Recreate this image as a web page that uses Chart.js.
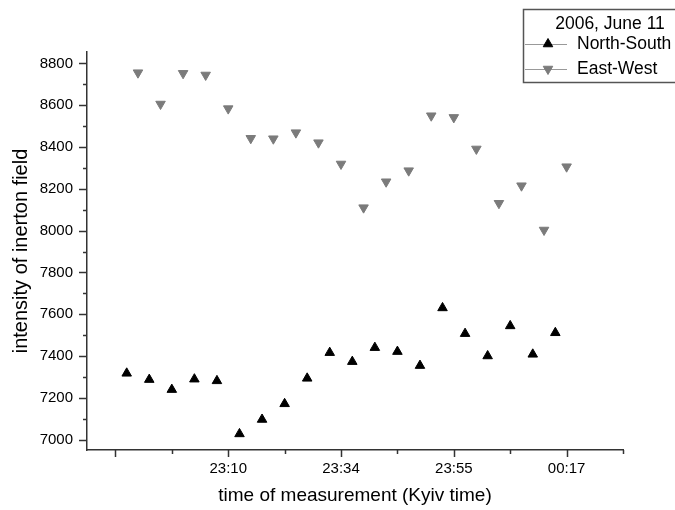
<!DOCTYPE html>
<html lang="en">
<head>
<meta charset="UTF-8">
<title>Intensity of inerton field</title>
<style>
    html, body {
        margin: 0;
        padding: 0;
        background: #fff;
    }
    #wrap {
        width: 675px;
        height: 510px;
    }
</style>
<script src="https://cdn.jsdelivr.net/npm/chart.js"></script>
</head>
<body>
<div id="wrap"><canvas id="myChart" width="675" height="510"></canvas></div>
<script>
    // data
    const legendTitle = '2006, June 11';
    const seriesNames = ['North-South', 'East-West'];

    // measurement number: N-S reading, then the E-W reading half a step later
    const nsX = [1, 2, 3, 4, 5, 6, 7, 8, 9, 10, 11, 12, 13, 14, 15, 16, 17, 18, 19, 20];
    const nsY = [7317, 7287, 7239, 7289, 7281, 7027, 7096, 7171, 7293, 7416,
                 7373, 7440, 7421, 7354, 7630, 7507, 7400, 7544, 7408, 7511];
    const ewX = [1.5, 2.5, 3.5, 4.5, 5.5, 6.5, 7.5, 8.5, 9.5, 10.5,
                 11.5, 12.5, 13.5, 14.5, 15.5, 16.5, 17.5, 18.5, 19.5, 20.5];
    const ewY = [8756, 8606, 8753, 8745, 8584, 8442, 8440, 8469, 8421, 8319,
                 8110, 8234, 8287, 8550, 8542, 8391, 8131, 8215, 8003, 8306];

    // axis ticks (every 2.5 measurements, labelled every 5)
    const xTickValues = [0.5, 3, 5.5, 8, 10.5, 13, 15.5, 18, 20.5, 23];
    const xTickLabels = ['', '', '23:10', '', '23:34', '', '23:55', '', '00:17', ''];
    const yTickValues = [7000, 7100, 7200, 7300, 7400, 7500, 7600, 7700, 7800, 7900,
                         8000, 8100, 8200, 8300, 8400, 8500, 8600, 8700, 8800];

    const FONT = '"Liberation Sans", Arial, sans-serif';
    const axisColor = '#333';
    const nsColor = '#000';
    const ewColor = '#7b7b7b';

    // small outward tick marks, long for labelled values
    const tickMarks = {
        id: 'tickMarks',
        afterDraw(chart) {
            const {ctx, chartArea: a, scales: {x, y}} = chart;
            ctx.save();
            ctx.strokeStyle = axisColor;
            ctx.lineWidth = 1.5;
            yTickValues.forEach(v => {
                const py = Math.round(y.getPixelForValue(v)) + 0.5;
                const len = v % 200 === 0 ? 8 : 4;
                ctx.beginPath();
                ctx.moveTo(a.left - len, py);
                ctx.lineTo(a.left, py);
                ctx.stroke();
            });
            xTickValues.forEach((v, i) => {
                const px = Math.round(x.getPixelForValue(v)) + 0.5;
                const len = i % 2 === 0 ? 7 : 4;
                ctx.beginPath();
                ctx.moveTo(px, a.bottom);
                ctx.lineTo(px, a.bottom + len);
                ctx.stroke();
            });
            ctx.restore();
        }
    };

    // boxed legend in the upper right corner
    const boxLegend = {
        id: 'boxLegend',
        afterDraw(chart) {
            const ctx = chart.ctx;
            ctx.save();
            ctx.strokeStyle = '#555';
            ctx.lineWidth = 1.5;
            ctx.strokeRect(523.5, 9.5, 200, 73);

            ctx.fillStyle = '#000';
            ctx.font = '17.5px ' + FONT;
            ctx.textBaseline = 'middle';
            ctx.textAlign = 'center';
            ctx.fillText(legendTitle, 610, 24);

            ctx.textAlign = 'left';
            chart.data.datasets.forEach((ds, i) => {
                const ry = 44 + i * 25;
                ctx.strokeStyle = '#999';
                ctx.lineWidth = 1;
                ctx.beginPath();
                ctx.moveTo(525, ry + 0.5);
                ctx.lineTo(567, ry + 0.5);
                ctx.stroke();
                ctx.fillStyle = ds.pointBackgroundColor;
                ctx.strokeStyle = ds.pointBorderColor;
                Chart.helpers.drawPoint(ctx, {
                    pointStyle: 'triangle',
                    radius: ds.pointRadius,
                    rotation: ds.pointRotation,
                    borderWidth: 1
                }, 548, ry);
                ctx.fillStyle = '#000';
                ctx.fillText(ds.label, 577, ry);
            });
            ctx.restore();
        }
    };

    const ctx = document.getElementById('myChart').getContext('2d');
    const myChart = new Chart(ctx, {
        type: 'scatter',
        data: {
            datasets: [{
                label: seriesNames[0],
                data: nsX.map((v, i) => ({x: v, y: nsY[i]})),
                pointStyle: 'triangle',
                pointRotation: 0,
                pointRadius: 5.5,
                pointBackgroundColor: nsColor,
                pointBorderColor: nsColor,
                pointBorderWidth: 1
            }, {
                label: seriesNames[1],
                data: ewX.map((v, i) => ({x: v, y: ewY[i]})),
                pointStyle: 'triangle',
                pointRotation: 180,
                pointRadius: 5.5,
                pointBackgroundColor: ewColor,
                pointBorderColor: ewColor,
                pointBorderWidth: 1
            }]
        },
        options: {
            responsive: false,
            animation: false,
            layout: {padding: {top: 52, right: 52, left: 0, bottom: 0}},
            plugins: {
                legend: {display: false},
                tooltip: {enabled: false}
            },
            scales: {
                x: {
                    type: 'linear',
                    min: -0.76,
                    max: 23,
                    grid: {display: false, drawTicks: false},
                    border: {display: true, color: axisColor, width: 1.5},
                    afterBuildTicks: s => { s.ticks = xTickValues.map(v => ({value: v})); },
                    afterFit: s => { s.height = 60; },
                    ticks: {
                        autoSkip: false,
                        maxRotation: 0,
                        padding: 10,
                        color: '#000',
                        font: {family: FONT, size: 15},
                        callback: (v, i) => xTickLabels[i]
                    },
                    title: {
                        display: true,
                        text: 'time of measurement (Kyiv time)',
                        color: '#000',
                        font: {family: FONT, size: 19},
                        padding: {top: 0, bottom: 3}
                    }
                },
                y: {
                    min: 6950,
                    max: 8855,
                    grid: {display: false, drawTicks: false},
                    border: {display: true, color: axisColor, width: 1.5},
                    afterBuildTicks: s => { s.ticks = yTickValues.map(v => ({value: v})); },
                    afterFit: s => { s.width = 87; },
                    ticks: {
                        autoSkip: false,
                        padding: 14,
                        color: '#000',
                        font: {family: FONT, size: 15},
                        callback: v => (v % 200 === 0 ? String(v) : '')
                    },
                    title: {
                        display: true,
                        text: 'intensity of inerton field',
                        color: '#000',
                        font: {family: FONT, size: 20},
                        padding: {top: 9, bottom: 0}
                    }
                }
            }
        },
        plugins: [tickMarks, boxLegend]
    });
</script>
</body>
</html>
